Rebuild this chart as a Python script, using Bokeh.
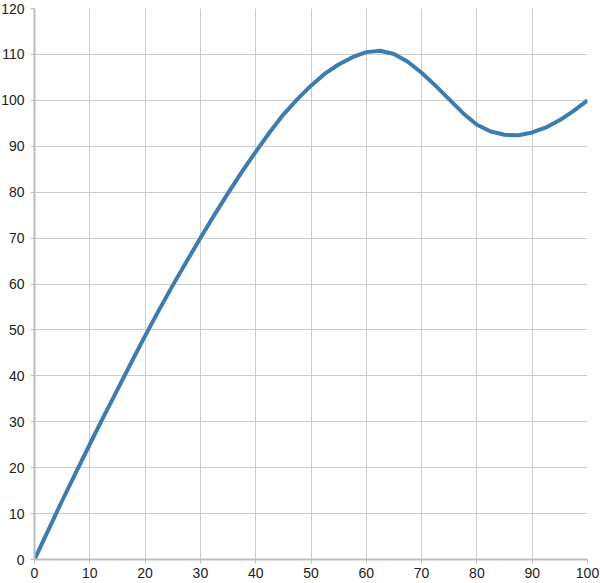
from bokeh.plotting import figure
from bokeh.models import Range1d, SingleIntervalTicker
from bokeh.embed import file_html
from bokeh.resources import INLINE

# Data
x_vals = [0, 2.5, 5, 7.5, 10, 12.5, 15, 17.5, 20, 22.5, 25, 27.5, 30, 32.5, 35,
          37.5, 40, 42.5, 45, 47.5, 50, 52.5, 55, 57.5, 60, 62.5, 65, 67.5, 70,
          72.5, 75, 77.5, 80, 82.5, 85, 87.5, 90, 92.5, 95, 97.5, 100]
y_vals = [0, 6.4, 12.8, 19.0, 25.1, 31.1, 37.0, 42.9, 48.7, 54.3, 59.7, 64.9,
          70.0, 75.0, 79.8, 84.4, 88.8, 93.0, 96.9, 100.2, 103.2, 105.8, 107.8,
          109.4, 110.5, 110.8, 110.1, 108.4, 106.0, 103.2, 100.2, 97.2, 94.7,
          93.2, 92.5, 92.4, 93.0, 94.1, 95.7, 97.7, 100.0]

x_min, x_max, x_step = 0, 100, 10
y_min, y_max, y_step = 0, 120, 10

p = figure(
    frame_width=553, frame_height=551,
    min_border_left=36, min_border_right=13, min_border_top=12, min_border_bottom=24,
    x_range=Range1d(x_min, x_max), y_range=Range1d(y_min, y_max),
    output_backend="svg", toolbar_location=None,
)
p.styles = {"margin-left": "-2px", "margin-top": "-4px", "margin-bottom": "-8px"}
p.outline_line_color = None
p.background_fill_color = "white"
p.border_fill_color = "white"

p.line(x_vals, y_vals, line_color="#3b7db3", line_width=4, line_join="round")

p.xaxis.ticker = SingleIntervalTicker(interval=x_step)
p.yaxis.ticker = SingleIntervalTicker(interval=y_step)
for ax in (p.xaxis, p.yaxis):
    ax.axis_line_color = "#bdbdbd"
    ax.axis_line_width = 2
    ax.major_tick_line_color = "#bdbdbd"
    ax.major_tick_line_width = 1
    ax.major_tick_out = 4
    ax.major_tick_in = 0
    ax.minor_tick_line_color = None
    ax.major_label_text_font = "Liberation Sans"
    ax.major_label_text_font_size = "14px"
    ax.major_label_text_color = "#222222"
p.xaxis.major_label_standoff = 4
p.yaxis.major_label_standoff = 6

p.xgrid.ticker = SingleIntervalTicker(interval=x_step)
p.ygrid.ticker = SingleIntervalTicker(interval=y_step)
p.grid.grid_line_color = "#cccccc"
p.grid.grid_line_width = 1

open("out.html", "w").write(file_html(p, INLINE))
